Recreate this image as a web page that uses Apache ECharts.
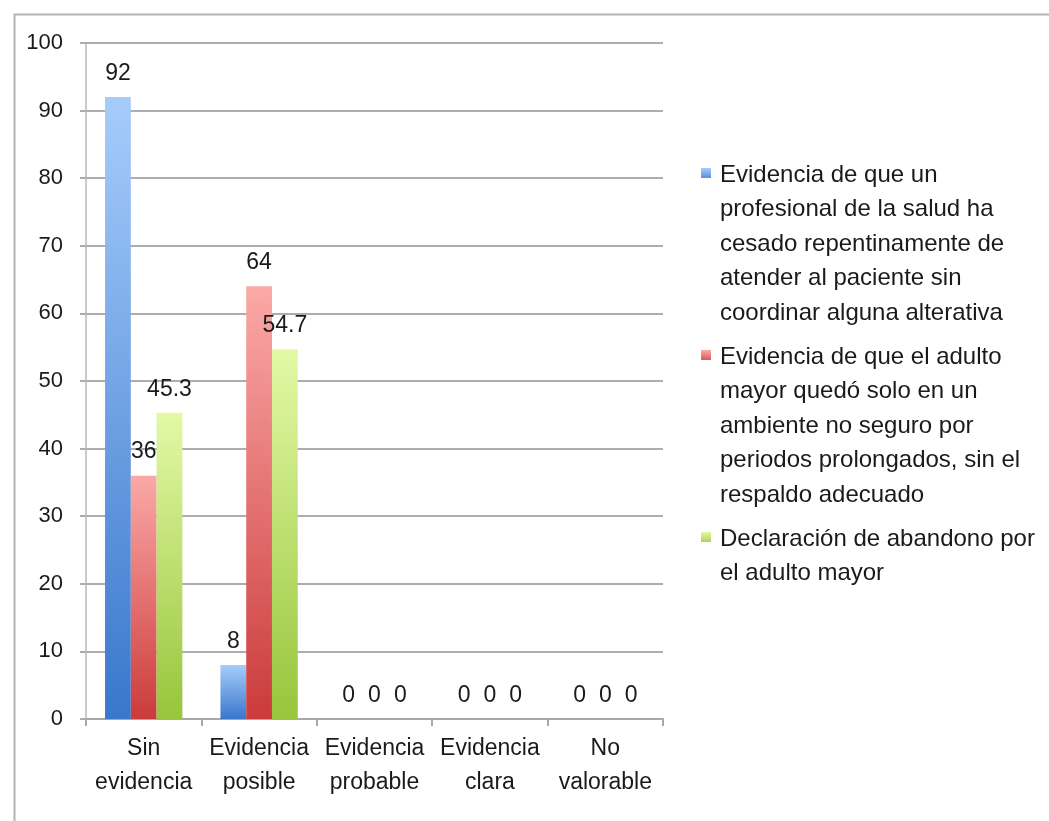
<!DOCTYPE html>
<html><head><meta charset="utf-8">
<script src="https://cdn.jsdelivr.net/npm/echarts/dist/echarts.min.js"></script>
<style>html,body{margin:0;padding:0;background:#fff}#c{width:1049px;height:821px}</style>
</head><body><div id="c"></div>
<script>
// ---- data ----
const categories = ['Sin\nevidencia', 'Evidencia\nposible', 'Evidencia\nprobable', 'Evidencia\nclara', 'No\nvalorable'];
const seriesNames = [
  'Evidencia de que un profesional de la salud ha cesado repentinamente de atender al paciente sin coordinar alguna alterativa',
  'Evidencia de que el adulto mayor quedó solo en un ambiente no seguro por periodos prolongados, sin el respaldo adecuado',
  'Declaración de abandono por el adulto mayor'
];
const profesionalValues = [92, 8, 0, 0, 0];
const soloValues = [36, 64, 0, 0, 0];
const declaracionValues = [45.3, 54.7, 0, 0, 0];
const yMin = 0, yMax = 100, yInterval = 10;
const legendLines = [
  ['Evidencia de que un', 'profesional de la salud ha', 'cesado repentinamente de', 'atender al paciente sin', 'coordinar alguna alterativa'],
  ['Evidencia de que el adulto', 'mayor quedó solo en un', 'ambiente no seguro por', 'periodos prolongados, sin el', 'respaldo adecuado'],
  ['Declaración de abandono por', 'el adulto mayor']
];

// ---- styling ----
const FONT = '"Liberation Sans", Arial, Helvetica, sans-serif';
const TXT = '#1a1a1a';
const gradients = [
  ['#a6ccfb', '#3977cc'],
  ['#fba9a7', '#cb3b3b'],
  ['#e3f9a6', '#97c53b']
];
function grad(c) {
  return new echarts.graphic.LinearGradient(0, 0, 0, 1, [
    { offset: 0, color: c[0] }, { offset: 1, color: c[1] }
  ]);
}
const valueSets = [profesionalValues, soloValues, declaracionValues];
const LH = 34.6;
const LFS = 24;
const firstLineY = [175, 357, 539];

const chart = echarts.init(document.getElementById('c'), null, { renderer: 'canvas' });
chart.setOption({
  animation: false,
  backgroundColor: '#fff',
  textStyle: { fontFamily: FONT },
  graphic: [{
    type: 'rect', left: 12, top: 12, silent: true,
    shape: { width: 1200, height: 1000 },
    style: { fill: 'none', stroke: '#b4b4b4', lineWidth: 2 }
  }],
  grid: { left: 86, right: 386, top: 43, bottom: 102, containLabel: false },
  xAxis: {
    type: 'category',
    data: categories,
    axisLine: { show: true, lineStyle: { color: '#a8a8a8', width: 2 } },
    axisTick: { show: true, length: 7, lineStyle: { color: '#a8a8a8', width: 2 } },
    axisLabel: { interval: 0, fontSize: 23, lineHeight: 34, color: TXT, fontFamily: FONT, margin: 13 },
    splitLine: { show: false }
  },
  yAxis: {
    type: 'value', min: yMin, max: yMax, interval: yInterval,
    axisLine: { show: true, lineStyle: { color: '#b8b8b8', width: 1.5 } },
    axisTick: { show: true, length: 6, lineStyle: { color: '#adadad', width: 2 } },
    axisLabel: { fontSize: 22, color: TXT, fontFamily: FONT, margin: 23 },
    splitLine: { show: true, lineStyle: { color: '#adadad', width: 2 } }
  },
  legend: seriesNames.map((name, i) => {
    const n = legendLines[i].length;
    return {
      data: [name],
      orient: 'vertical',
      left: 701,
      top: firstLineY[i] - (2 * n - 1) * LH / 2,
      padding: 0,
      icon: 'path://M0,0L10,0L10,10L0,10Z M14,14L14,14',
      itemWidth: 14, itemHeight: 14,
      itemGap: 0,
      selectedMode: false,
      textStyle: { fontSize: LFS, lineHeight: LH, color: TXT, fontFamily: FONT },
      formatter: function (nm) {
        const lines = legendLines[seriesNames.indexOf(nm)];
        const pad = [];
        for (let k = 0; k < lines.length - 1; k++) pad.push(' ');
        return pad.concat(lines).join('\n');
      }
    };
  }),
  series: seriesNames.map((name, i) => ({
    name: name,
    type: 'bar',
    data: valueSets[i],
    barGap: '0%',
    barCategoryGap: '33%',
    itemStyle: { color: grad(gradients[i]) },
    label: {
      show: true, position: 'top', distance: 12,
      fontSize: 23, color: TXT, fontFamily: FONT
    },
    emphasis: { disabled: true }
  }))
});
</script>
</body></html>
